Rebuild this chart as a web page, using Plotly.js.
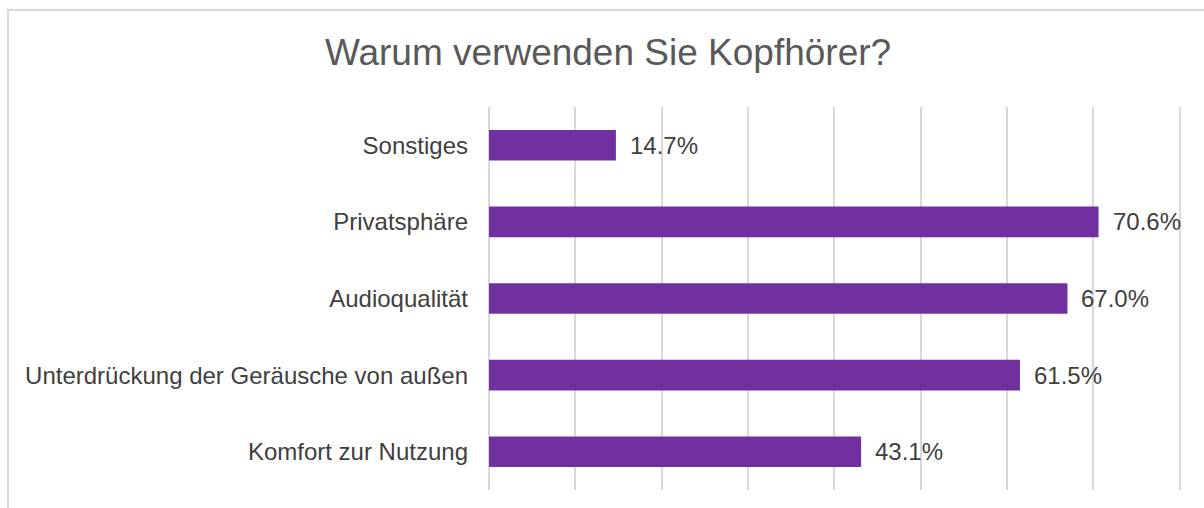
<!DOCTYPE html>
<html><head><meta charset="utf-8">
<script src="https://cdn.plot.ly/plotly-3.0.1.min.js"></script>
<style>
html,body{margin:0;padding:0;background:#fff;overflow:hidden}
#frame{position:absolute;left:7px;top:9px;width:1300px;height:600px;border:2px solid #d9d9d9;box-sizing:border-box}
#chart{position:absolute;left:0;top:0;width:1204px;height:508px}
</style></head>
<body>
<div id="frame"></div>
<div id="chart"></div>
<script>
const categories = ["Komfort zur Nutzung","Unterdrückung der Geräusche von außen","Audioqualität","Privatsphäre","Sonstiges"];
const values = [43.1, 61.5, 67.0, 70.6, 14.7];
const labels = values.map(v => v.toFixed(1) + "%");

const FONT = "Liberation Sans, Arial, sans-serif";
const trace = {
  type: "bar", orientation: "h",
  x: values, y: categories,
  marker: {color: "#7030A0"},
  width: 0.4,
  hoverinfo: "none"
};
const annotations = values.map((v,i)=>({
  x: v, y: categories[i], xref: "x", yref: "y",
  text: labels[i], showarrow: false, xanchor: "left", xshift: 12,
  font: {family: FONT, size: 24, color: "#404040"}
}));
const layout = {
  width: 1204, height: 508,
  paper_bgcolor: "rgba(0,0,0,0)", plot_bgcolor: "rgba(0,0,0,0)",
  margin: {l: 489, r: 20, t: 107, b: 18},
  title: {text: "Warum verwenden Sie Kopfhörer?", x: 0.505, xanchor: "center", y: 0.897, yanchor: "middle",
          font: {family: FONT, size: 37, color: "#595959"}},
  xaxis: {range: [0, 80.5], dtick: 10, tick0: 0, showticklabels: false, showgrid: true,
          gridcolor: "#d9d9d9", gridwidth: 2, zeroline: true, zerolinecolor: "#d9d9d9", zerolinewidth: 2,
          showline: false, fixedrange: true},
  yaxis: {type: "category", showgrid: false, zeroline: false, showline: false, ticks: "",
          ticklabelstandoff: 20, range: [-0.5, 4.5],
          tickfont: {family: FONT, size: 24, color: "#404040"}},
  annotations: annotations,
  showlegend: false, bargap: 0.6
};
Plotly.newPlot("chart", [trace], layout, {displayModeBar: false, staticPlot: true});
</script>
</body></html>
